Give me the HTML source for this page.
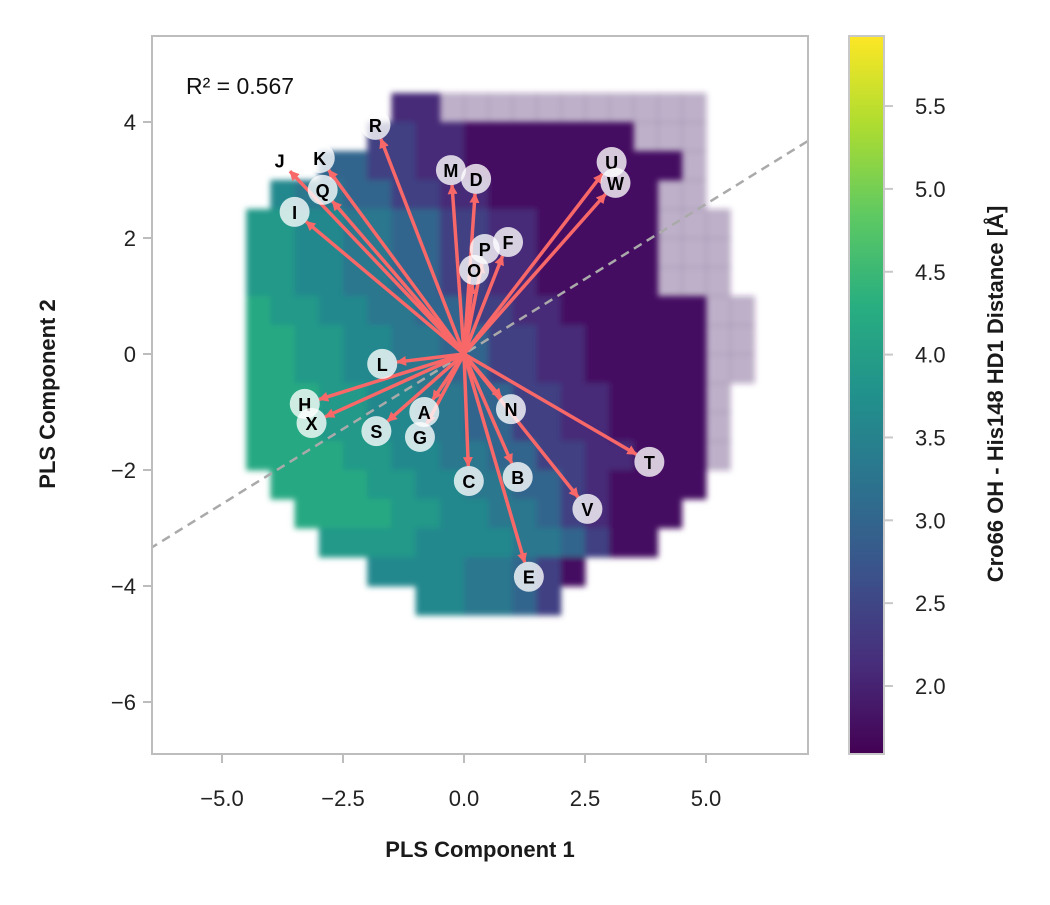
<!DOCTYPE html>
<html><head><meta charset="utf-8"><style>
body{margin:0;background:#fff;}
svg text{font-family:"Liberation Sans",sans-serif;}
</style></head><body>
<svg id="chart" width="1050" height="900" viewBox="0 0 1050 900" xmlns="http://www.w3.org/2000/svg">
<defs>
<linearGradient id="vir" x1="0" y1="1" x2="0" y2="0">
<stop offset="0" stop-color="#440154"/><stop offset="0.125" stop-color="#472d7b"/><stop offset="0.25" stop-color="#3b528b"/><stop offset="0.375" stop-color="#2c728e"/><stop offset="0.5" stop-color="#21918c"/><stop offset="0.625" stop-color="#28ae80"/><stop offset="0.75" stop-color="#5ec962"/><stop offset="0.875" stop-color="#addc30"/><stop offset="1" stop-color="#fde725"/>
</linearGradient>
<clipPath id="clip"><rect x="152" y="36" width="656" height="718"/></clipPath>
<filter id="soft" x="-5%" y="-5%" width="110%" height="110%"><feGaussianBlur stdDeviation="3"/></filter>
<marker id="ah" markerWidth="10" markerHeight="10" refX="9" refY="5" orient="auto" markerUnits="userSpaceOnUse"><path d="M0,0 L10,5 L0,10 Z" fill="#f86868"/></marker>
</defs>
<g clip-path="url(#clip)"><g id="heat" filter="url(#soft)"></g></g>
<line id="dline" stroke="#aaaaaa" stroke-width="2.5" stroke-dasharray="9,6" clip-path="url(#clip)"/>
<g id="arrows"></g>
<g id="labels"></g>
<rect x="152" y="36" width="656" height="718" fill="none" stroke="#bdbdbd" stroke-width="2"/>
<g id="axes"></g>
<text x="186" y="94" font-size="23" fill="#111">R² = 0.567</text>
<text x="480" y="857" font-size="22" font-weight="bold" text-anchor="middle" fill="#1a1a1a">PLS Component 1</text>
<text transform="translate(55,394) rotate(-90)" font-size="22" font-weight="bold" text-anchor="middle" fill="#1a1a1a">PLS Component 2</text>
<rect x="849" y="36" width="35" height="718" fill="url(#vir)" stroke="#c8c8c8" stroke-width="2"/>
<g id="cbax"></g>
<text transform="translate(1003,394) rotate(-90)" font-size="22" font-weight="bold" text-anchor="middle" fill="#1a1a1a">Cro66 OH - His148 HD1 Distance [Å]</text>
</svg>
<script>
// Heatmap grid: columns x = -5..6 step 0.5, rows y = 4.5..-4.5 step 0.5; digit d -> value 1.8+0.3d ; z = sparse
const gridX0 = -5, gridY0 = 4.5, gridStep = 0.5;
const heatRows = [
".......11zzzzzzzzzzz..",
"......22110000000zzz..",
"....442211000000000z..",
"..6554422110000000zz..",
".77665544221100000zzz.",
".77665544221100000zzz.",
".77665544221100000zzz.",
".8776655442211000000zz",
".8877665544221100000zz",
".8877665544221100000zz",
".8887766554422110000z.",
".8887766554422110000z.",
".8888776655442211000z.",
"..888877665544210000..",
"...8888776655421000...",
"....77776666554200....",
"......666655420.......",
"........665542........"
];
const xTicks = [-5.0, -2.5, 0.0, 2.5, 5.0];
const xTickLabels = ["−5.0", "−2.5", "0.0", "2.5", "5.0"];
const yTicks = [4, 2, 0, -2, -4, -6];
const yTickLabels = ["4", "2", "0", "−2", "−4", "−6"];
const cbTicks = [2.0, 2.5, 3.0, 3.5, 4.0, 4.5, 5.0, 5.5];
const cbTickLabels = ["2.0", "2.5", "3.0", "3.5", "4.0", "4.5", "5.0", "5.5"];
const loadNames = ["M","D","U","W","Q","I","P","F","O","L","H","X","A","S","G","N","C","B","T","V","E","R","J","K"];
const loadX = [-0.27,0.25,3.05,3.13,-2.92,-3.50,0.43,0.91,0.21,-1.69,-3.29,-3.15,-0.82,-1.81,-0.91,0.97,0.10,1.11,3.83,2.55,1.34,-1.83,-3.81,-2.98];
const loadY = [3.17,3.02,3.31,2.95,2.83,2.45,1.81,1.93,1.45,-0.17,-0.86,-1.19,-1.00,-1.33,-1.43,-0.95,-2.19,-2.12,-1.86,-2.67,-3.84,3.95,3.34,3.38];
const lineSlope = [0.517];

const X0=464, XS=48.4, Y0=354, YS=58;
const sx = v => X0 + v*XS, sy = v => Y0 - v*YS;
const cbScale = v => 686 - (v-2.0)*165.7;
const NS="http://www.w3.org/2000/svg";
const vir=["#440154","#472d7b","#3b528b","#2c728e","#21918c","#28ae80","#5ec962","#addc30","#fde725"];
function hex(h){return [1,3,5].map(i=>parseInt(h.substr(i,2),16));}
function viridis(v){let t=(v-1.6)/(5.92-1.6);t=Math.max(0,Math.min(1,t))*8;const i=Math.min(7,Math.floor(t)),f=t-i;const a=hex(vir[i]),b=hex(vir[i+1]);return "rgb("+a.map((c,k)=>Math.round(c+(b[k]-c)*f)).join(",")+")";}
function mk(tag,attrs,parent){const e=document.createElementNS(NS,tag);for(const k in attrs)e.setAttribute(k,attrs[k]);parent.appendChild(e);return e;}

const heat=document.getElementById('heat');
heatRows.forEach((row,r)=>{
  for(let c=0;c<row.length;c++){
    const ch=row[c]; if(ch==='.') continue;
    const x=gridX0+c*gridStep, y=gridY0-r*gridStep;
    const sparse=ch==='z';
    const v=sparse?1.8:1.8+0.3*parseInt(ch);
    const x1=sx(x),x2=sx(x+gridStep),y1=sy(y),y2=sy(y-gridStep);
    const el=mk('rect',{x:x1,y:y1,width:x2-x1+0.5,height:y2-y1+0.5,fill:viridis(v),'fill-opacity':sparse?0.35:1},heat);
    
    
  }
});

const dl=document.getElementById('dline');
dl.setAttribute('x1',sx(-6.5));dl.setAttribute('y1',sy(-6.5*lineSlope[0]));
dl.setAttribute('x2',sx(7.2));dl.setAttribute('y2',sy(7.2*lineSlope[0]));

const arrows=document.getElementById('arrows'), labels=document.getElementById('labels');
loadNames.forEach((n,i)=>{
  const lx=sx(loadX[i]), ly=sy(loadY[i]);
  const dx=lx-sx(0), dy=ly-sy(0), L=Math.hypot(dx,dy), k=(L-15)/L;
  const a=mk('line',{x1:sx(0),y1:sy(0),x2:sx(0)+dx*k,y2:sy(0)+dy*k,stroke:'#f86868','stroke-width':3.5,'marker-end':'url(#ah)'},arrows);
  
  
  const c=mk('circle',{cx:lx,cy:ly,r:15,fill:'#ffffff','fill-opacity':0.78},labels);
  
  
  const t=mk('text',{x:lx,y:ly+7,'font-size':18,'font-weight':'bold','text-anchor':'middle',fill:'#000'},labels);
  t.textContent=n;
  
  
});

const axes=document.getElementById('axes');
xTicks.forEach((v,i)=>{
  const l=mk('line',{x1:sx(v),x2:sx(v),y1:754,y2:763,stroke:'#bdbdbd','stroke-width':2},axes);
  
  
  const t=mk('text',{x:sx(v),y:806,'font-size':22,'text-anchor':'middle',fill:'#222'},axes);
  t.textContent=xTickLabels[i];
  
  
});
yTicks.forEach((v,i)=>{
  const l=mk('line',{x1:143,x2:152,y1:sy(v),y2:sy(v),stroke:'#bdbdbd','stroke-width':2},axes);
  
  
  const t=mk('text',{x:136,y:sy(v)+8,'font-size':22,'text-anchor':'end',fill:'#222'},axes);
  t.textContent=yTickLabels[i];
  
  
});
const cbax=document.getElementById('cbax');
cbTicks.forEach((v,i)=>{
  const y=cbScale(v);
  const l=mk('line',{x1:884,x2:893,y1:y,y2:y,stroke:'#c8c8c8','stroke-width':2},cbax);
  
  
  const t=mk('text',{x:915,y:y+8,'font-size':22,fill:'#222'},cbax);
  t.textContent=cbTickLabels[i];
  
  
});
</script>
</body></html>
